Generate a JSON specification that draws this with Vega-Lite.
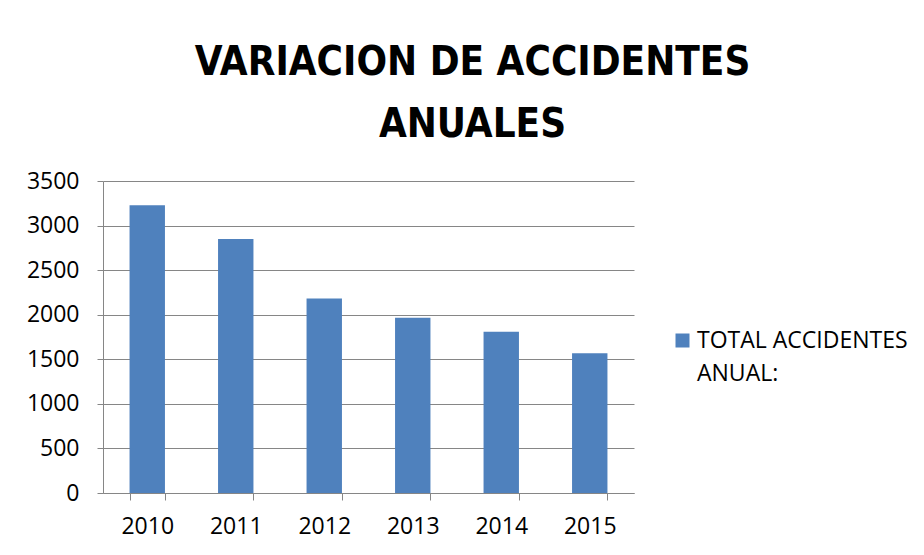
{
  "$schema": "https://vega.github.io/schema/vega-lite/v6.json",
  "autosize": {"type": "none"},
  "width": 531,
  "height": 312,
  "padding": {"left": 103, "top": 181, "right": 290, "bottom": 62},
  "background": "white",
  "title": {
    "text": ["VARIACION DE ACCIDENTES", "ANUALES"],
    "font": "Liberation Sans Narrow, DejaVu Sans Condensed, sans-serif",
    "fontSize": 40,
    "fontWeight": "bold",
    "color": "#000000",
    "anchor": "middle",
    "frame": "group",
    "dx": 104,
    "lineHeight": 62,
    "offset": 25
  },
  "data": {
    "values": [
      {"anio": "2010", "total": 3228, "serie": "TOTAL ACCIDENTES ANUAL:"},
      {"anio": "2011", "total": 2850, "serie": "TOTAL ACCIDENTES ANUAL:"},
      {"anio": "2012", "total": 2181, "serie": "TOTAL ACCIDENTES ANUAL:"},
      {"anio": "2013", "total": 1965, "serie": "TOTAL ACCIDENTES ANUAL:"},
      {"anio": "2014", "total": 1808, "serie": "TOTAL ACCIDENTES ANUAL:"},
      {"anio": "2015", "total": 1569, "serie": "TOTAL ACCIDENTES ANUAL:"}
    ]
  },
  "mark": {"type": "bar"},
  "encoding": {
    "x": {
      "field": "anio",
      "type": "ordinal",
      "scale": {"paddingInner": 0.6, "paddingOuter": 0.3},
      "axis": {
        "title": null,
        "labelAngle": 0,
        "tickBand": "extent",
        "tickSize": 7,
        "tickColor": "#868686",
        "domainColor": "#868686",
        "labelFont": "Open Sans",
        "labelFontSize": 23,
        "labelColor": "#000000",
        "labelPadding": 15,
        "grid": false
      }
    },
    "y": {
      "field": "total",
      "type": "quantitative",
      "scale": {"domain": [0, 3500], "nice": false},
      "axis": {
        "title": null,
        "format": "d",
        "values": [0, 500, 1000, 1500, 2000, 2500, 3000, 3500],
        "tickSize": 6,
        "tickColor": "#868686",
        "domainColor": "#868686",
        "gridColor": "#868686",
        "gridOpacity": 1,
        "labelFont": "Open Sans",
        "labelFontSize": 23,
        "labelColor": "#000000",
        "labelPadding": 18
      }
    },
    "color": {
      "field": "serie",
      "type": "nominal",
      "scale": {"range": ["#4F81BD"]},
      "legend": {
        "title": null,
        "orient": "none",
        "legendX": 568,
        "legendY": 148,
        "symbolType": "square",
        "symbolSize": 196,
        "symbolStrokeWidth": 0,
        "labelFont": "Open Sans",
        "labelFontSize": 23,
        "labelColor": "#000000",
        "labelBaseline": "middle",
        "labelOffset": 3,
        "labelLimit": 400,
        "labelExpr": "['TOTAL ACCIDENTES', 'ANUAL:']"
      }
    }
  },
  "config": {
    "view": {"stroke": null},
    "style": {"guide-label": {"lineHeight": 33}}
  }
}
